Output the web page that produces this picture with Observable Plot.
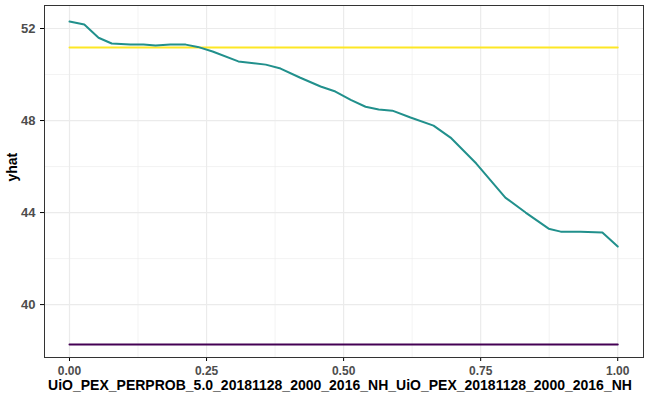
<!DOCTYPE html>
<html><head>
<script src="https://cdn.jsdelivr.net/npm/d3@7"></script>
<script src="https://cdn.jsdelivr.net/npm/@observablehq/plot@0.6"></script>
<style>body{margin:0;background:#fff;font-family:"Liberation Sans",Arial,sans-serif}</style>
</head><body><div id="c"></div>
<script>
const xs = [0,0.027,0.053,0.077,0.111,0.135,0.157,0.184,0.212,0.234,0.261,0.308,0.358,0.385,0.42,0.458,0.485,0.513,0.54,0.564,0.589,0.622,0.664,0.695,0.742,0.795,0.832,0.874,0.896,0.932,0.972,1.0];
const yhat = [52.3,52.17,51.6,51.35,51.3,51.3,51.26,51.3,51.3,51.2,51.0,50.57,50.43,50.26,49.87,49.48,49.26,48.9,48.6,48.48,48.43,48.13,47.78,47.26,46.13,44.65,44.0,43.3,43.17,43.17,43.13,42.52];
const yellowY = 51.17;
const purpleY = 38.26;
const xTicks = [0,0.25,0.5,0.75,1];
const yTicks = [40,44,48,52];
const data = xs.map((x,i)=>({x,y:yhat[i]}));
const flat = v => [{x:0,y:v},{x:1,y:v}];
const chart = Plot.plot({
  width:650,height:400,marginLeft:44,marginRight:7,marginTop:5,marginBottom:43,
  style:{fontSize:"12px",fontFamily:"Liberation Sans, Arial, sans-serif"},
  x:{domain:[-0.0456,1.047],ticks:xTicks,tickFormat:d=>d.toFixed(2),label:null,tickSize:4},
  y:{domain:[37.7,53.0],ticks:yTicks,label:null,tickSize:4},
  marks:[
    Plot.gridX([0.125,0.375,0.625,0.875],{stroke:"#ebebeb",strokeOpacity:1,strokeWidth:0.6}),
    Plot.gridY([42,46,50],{stroke:"#ebebeb",strokeOpacity:1,strokeWidth:0.6}),
    Plot.gridX(xTicks,{stroke:"#ebebeb",strokeOpacity:1,strokeWidth:1.2}),
    Plot.gridY(yTicks,{stroke:"#ebebeb",strokeOpacity:1,strokeWidth:1.2}),
    Plot.line(flat(yellowY),{x:"x",y:"y",stroke:"#fde725",strokeWidth:2}),
    Plot.line(flat(purpleY),{x:"x",y:"y",stroke:"#440154",strokeWidth:2}),
    Plot.line(data,{x:"x",y:"y",stroke:"#21908c",strokeWidth:2}),
    Plot.axisX({ticks:xTicks,tickFormat:d=>d.toFixed(2),tickSize:4,fill:"#4d4d4d",fontWeight:"bold",label:null}),
    Plot.axisY({ticks:yTicks,tickSize:4,fill:"#4d4d4d",fontWeight:"bold",fontSize:13,label:null}),
    Plot.frame({stroke:"#333"}),
    Plot.text(["UiO_PEX_PERPROB_5.0_20181128_2000_2016_NH_UiO_PEX_20181128_2000_2016_NH"],{frameAnchor:"bottom",dy:32,dx:-4,fontWeight:"bold",fontSize:14,fill:"#000"}),
    Plot.text(["yhat"],{frameAnchor:"left",dx:-32,rotate:-90,fontWeight:"bold",fontSize:14,fill:"#000"})
  ]
});
document.getElementById("c").append(chart);
</script></body></html>
